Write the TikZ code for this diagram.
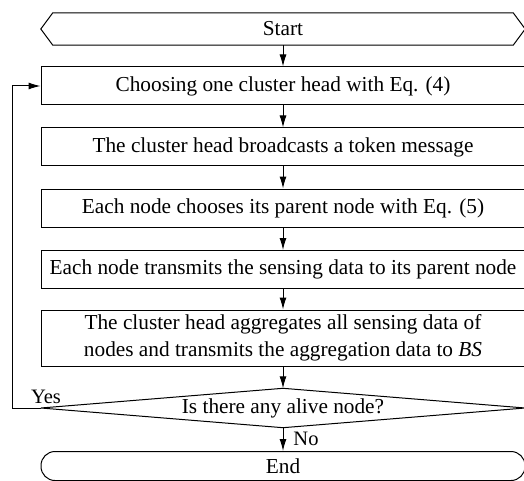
\documentclass[tikz,border=0pt]{standalone}
\usepackage{fontspec}
\setmainfont{Liberation Serif}
\usetikzlibrary{arrows.meta}
\begin{document}
\begin{tikzpicture}[x=1pt,y=-1pt,
  every node/.style={font=\fontsize{21.3}{26.5}\selectfont, text=black, inner sep=0pt},
  procbox/.style={draw, line width=1pt, minimum width=484pt, minimum height=38pt, align=center},
  ghost/.style={minimum width=484pt, minimum height=32pt},
  flow/.style={-{Latex[length=12pt,width=7pt]}, line width=1pt},
  lbl/.style={font=\fontsize{20.5}{24}\selectfont}
]
\useasboundingbox (0,0) rectangle (524,481);
% Start terminal (hexagon)
\node[ghost] (start) at (283,29) {Start};
\draw[line width=1pt] (start.west) -- ([xshift=12pt]start.north west) -- ([xshift=-12pt]start.north east)
  -- (start.east) -- ([xshift=-12pt]start.south east) -- ([xshift=12pt]start.south west) -- cycle;
% Process boxes
\node[procbox] (b1) at (283,86) {Choosing one cluster head with Eq. (4)};
\node[procbox] (b2) at (283,147) {The cluster head broadcasts a token message};
\node[procbox] (b3) at (283,208) {Each node chooses its parent node with Eq. (5)};
\node[procbox] (b4) at (283,269.5) {Each node transmits the sensing data to its parent node};
\node[procbox, minimum height=56pt] (b5) at (283,338) {The cluster head aggregates all sensing data of\\nodes and transmits the aggregation data to \textit{BS}};
% Decision
\node[minimum width=484pt, minimum height=39pt] (dec) at (283,408) {\raisebox{-3pt}{Is there any alive node?}};
\draw[line width=1pt] (dec.west) -- (dec.north) -- (dec.east) -- (dec.south) -- cycle;
% End terminal
\node[draw, line width=1pt, rounded corners=14pt, minimum width=484pt, minimum height=29pt] (end) at (283,466) {End};
% Connectors
\draw[flow] (start.south) -- (b1.north);
\draw[flow] (b1.south) -- (b2.north);
\draw[flow] (b2.south) -- (b3.north);
\draw[flow] (b3.south) -- (b4.north);
\draw[flow] (b4.south) -- (b5.north);
\draw[flow] (b5.south) -- (dec.north);
\draw[flow] (dec.south) -- (end.north);
\coordinate (lp) at (12,408);
\draw[flow] (dec.west) -- (lp) |- (b1.west);
% Labels
\node[lbl] (yes) at (46,397) {Yes};
\node[lbl] (no) at (306,439) {No};
\end{tikzpicture}
\end{document}
